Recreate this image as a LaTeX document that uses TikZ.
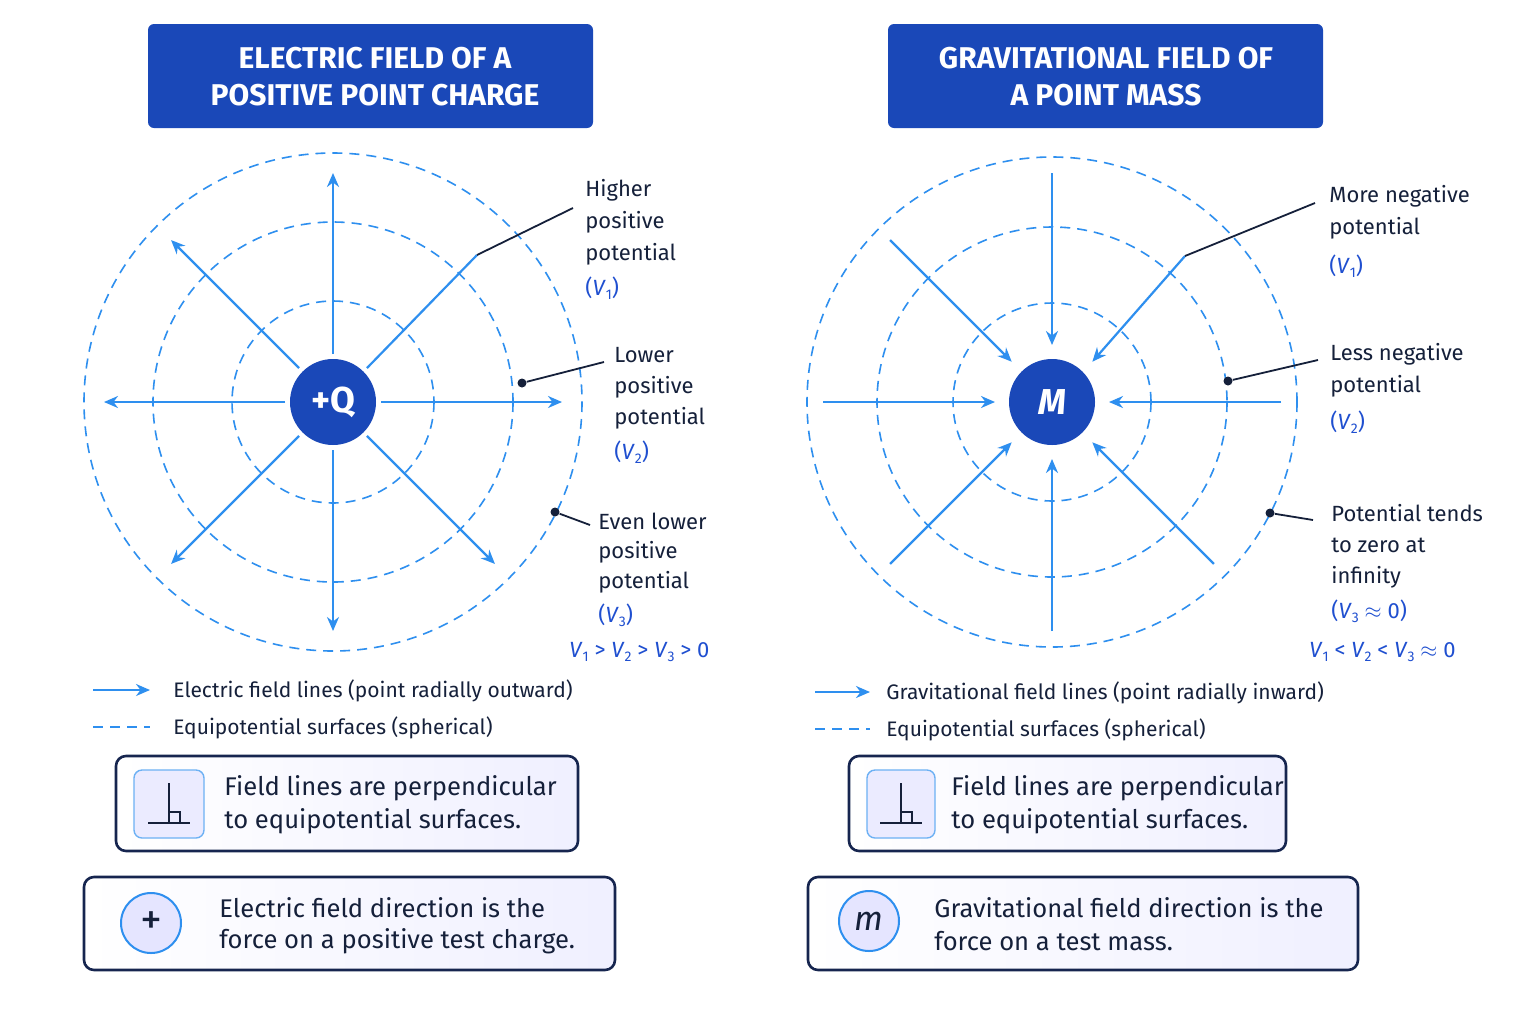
\documentclass[tikz,border=0pt]{standalone}
\usepackage{fontspec}
\setmainfont{Fira Sans}
\usetikzlibrary{arrows.meta,calc}
\definecolor{fld}{HTML}{2E8FEF}
\definecolor{ttl}{HTML}{1A48B8}
\definecolor{navy}{HTML}{16254F}
\definecolor{vblue}{HTML}{1F4FD0}
\definecolor{ink}{HTML}{15203A}
\newcommand{\Vv}[1]{\textit{V}\raisebox{-0.35ex}{\scriptsize #1}}
\begin{document}
\begin{tikzpicture}[x=0.5pt,y=-0.5pt,
  eq/.style={fld,line width=0.8pt,dash pattern=on 5pt off 3.5pt},
  fl/.style={fld,line width=1.1pt,-{Stealth[length=7pt,width=6pt]}},
  ttlbox/.style={fill=ttl,rounded corners=3pt},
  ttltxt/.style={white,font=\bfseries\fontsize{15}{18.5}\selectfont,align=center},
  lab/.style={anchor=west,ink,font=\fontsize{11}{13}\selectfont,inner sep=0},
  vlab/.style={anchor=west,vblue,font=\fontsize{11}{13}\selectfont,inner sep=0},
  lead/.style={ink,line width=0.9pt},
  dot/.style={circle,fill=ink,inner sep=0,minimum size=4.5pt},
  leg/.style={anchor=west,ink,font=\fontsize{10.5}{13}\selectfont,inner sep=0},
  box/.style={draw=navy,line width=1.3pt,rounded corners=5pt,left color=white,right color=blue!6},
  btxt/.style={anchor=west,ink,font=\fontsize{12.8}{16}\selectfont,inner sep=0},
  icon/.style={draw=fld!70,line width=0.7pt,fill=blue!8,rounded corners=4pt}]
\useasboundingbox (0,0) rectangle (1536,1024);
\fill[white] (0,0) rectangle (1536,1024);
% ---------- LEFT ----------
\fill[ttlbox] (148,24) rectangle (593,128);
\node[ttltxt] (tl) at (375,77) {ELECTRIC FIELD OF A\\POSITIVE POINT CHARGE};
\coordinate (cl) at (333,402);
\foreach \r in {101,180,249} \draw[eq] (cl) circle (\r);
\foreach \a in {0,45,90,135,180,225,270} \draw[fl] ($(cl)+(\a:48)$) -- ($(cl)+(\a:229)$);
\coordinate (l1a) at (477,255); \coordinate (l1b) at (573,208);
\draw[fld,line width=1.1pt] ($(cl)+(-45:48)$) -- (l1a);
\node[circle,fill=ttl,minimum size=43pt,inner sep=0,text=white,font=\bfseries\fontsize{18}{20}\selectfont] (q) at (cl) {+Q};
\draw[lead] (l1a) -- (l1b);
\node[lab] (h1) at (585,190) {Higher};
\node[lab] (h2) at (585,222) {positive};
\node[lab] (h3) at (585,254) {potential};
\node[vlab] (h4) at (585,288) {(\Vv{1})};
\node[dot] (d2) at (522,383) {}; \coordinate (l2b) at (604,362);
\draw[lead] (d2) -- (l2b);
\node[lab] (o1) at (614,355) {Lower};
\node[lab] (o2) at (614,387) {positive};
\node[lab] (o3) at (614,418) {potential};
\node[vlab] (o4) at (614,452) {(\Vv{2})};
\node[dot] (d3) at (555,512) {}; \coordinate (l3b) at (590,525);
\draw[lead] (d3) -- (l3b);
\node[lab] (e1) at (598,521) {Even lower};
\node[lab] (e2) at (598,552) {positive};
\node[lab] (e3) at (598,582) {potential};
\node[vlab] (e4) at (598,615) {(\Vv{3})};
\node[vlab] (ineqL) at (569,652) {\Vv{1} > \Vv{2} > \Vv{3} > 0};
\coordinate (la1) at (93,690); \coordinate (la2) at (150,690);
\draw[fl] (la1) -- (la2);
\node[leg] (lt1) at (173,691) {Electric field lines (point radially outward)};
\coordinate (lb1) at (93,727); \coordinate (lb2) at (150,727);
\draw[eq] (lb1) -- (lb2);
\node[leg] (lt2) at (173,728) {Equipotential surfaces (spherical)};
\draw[box] (116,756) rectangle (578,851);
\draw[icon] (134,770) rectangle (204,838);
\draw[ink,line width=1pt] (169,783) -- (169,823) (148,823) -- (190,823) (169,812) -- (180,812) -- (180,823);
\node[btxt] (b1a) at (224,788) {Field lines are perpendicular};
\node[btxt] (b1b) at (224,821) {to equipotential surfaces.};
\draw[box] (84,877) rectangle (615,970);
\node[circle,draw=fld,line width=1pt,fill=blue!10,minimum size=30pt,inner sep=0,font=\fontsize{22}{22}\selectfont,text=ink] (pc) at (151,923) {+};
\node[btxt] (b2a) at (219,908) {Electric field direction is the};
\node[btxt] (b2b) at (219,941) {force on a positive test charge.};
% ---------- RIGHT ----------
\fill[ttlbox] (888,24) rectangle (1323,128);
\node[ttltxt] (tr) at (1106,77) {GRAVITATIONAL FIELD OF\\A POINT MASS};
\coordinate (cr) at (1052,402);
\foreach \r in {99,175,245} \draw[eq] (cr) circle (\r);
\foreach \a in {0,45,90,135,180,225,270} \draw[fl] ($(cr)+(\a:229)$) -- ($(cr)+(\a:57)$);
\coordinate (r1a) at (1185,256); \coordinate (r1b) at (1315,203);
\draw[fl] (r1a) -- ($(cr)+(-45:57)$);
\node[circle,fill=ttl,minimum size=43pt,inner sep=0,text=white,font=\bfseries\itshape\fontsize{18}{20}\selectfont] (m) at (cr) {M};
\draw[lead] (r1a) -- (r1b);
\node[lab] (m1) at (1329,196) {More negative};
\node[lab] (m2) at (1329,228) {potential};
\node[vlab] (m3) at (1329,266) {(\Vv{1})};
\node[dot] (d5) at (1228,381) {}; \coordinate (r2b) at (1318,360);
\draw[lead] (d5) -- (r2b);
\node[lab] (s1) at (1330,354) {Less negative};
\node[lab] (s2) at (1330,386) {potential};
\node[vlab] (s3) at (1330,422) {(\Vv{2})};
\node[dot] (d6) at (1270,513) {}; \coordinate (r3b) at (1313,520);
\draw[lead] (d6) -- (r3b);
\node[lab] (p1) at (1331,513) {Potential tends};
\node[lab] (p2) at (1331,545) {to zero at};
\node[lab] (p3) at (1331,577) {infinity};
\node[vlab] (p4) at (1331,611) {(\Vv{3} $\approx$ 0)};
\node[vlab] (ineqR) at (1309,652) {\Vv{1} < \Vv{2} < \Vv{3} $\approx$ 0};
\coordinate (ra1) at (815,692); \coordinate (ra2) at (870,692);
\draw[fl] (ra1) -- (ra2);
\node[leg] (rt1) at (886,693) {Gravitational field lines (point radially inward)};
\coordinate (rb1) at (815,729); \coordinate (rb2) at (870,729);
\draw[eq] (rb1) -- (rb2);
\node[leg] (rt2) at (886,730) {Equipotential surfaces (spherical)};
\draw[box] (849,756) rectangle (1286,851);
\draw[icon] (867,770) rectangle (935,838);
\draw[ink,line width=1pt] (901,783) -- (901,823) (880,823) -- (922,823) (901,812) -- (912,812) -- (912,823);
\node[btxt] (b3a) at (951,788) {Field lines are perpendicular};
\node[btxt] (b3b) at (951,821) {to equipotential surfaces.};
\draw[box] (808,877) rectangle (1358,970);
\node[circle,draw=fld,line width=1pt,fill=blue!10,minimum size=30pt,inner sep=0,font=\itshape\fontsize{17}{20}\selectfont,text=ink] (mc) at (869,921) {m};
\node[btxt] (b4a) at (934,908) {Gravitational field direction is the};
\node[btxt] (b4b) at (934,941) {force on a test mass.};
\end{tikzpicture}
\end{document}
